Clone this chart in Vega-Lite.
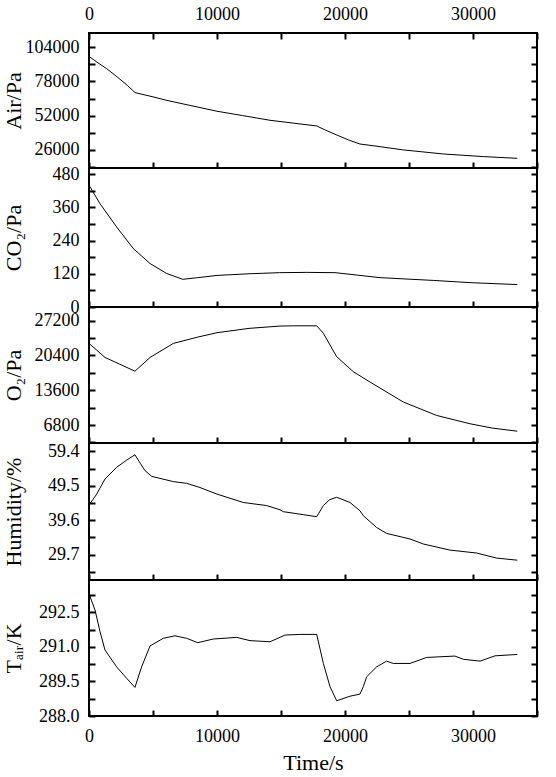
{
  "$schema": "https://vega.github.io/schema/vega-lite/v6.json",
  "autosize": {"type": "none"},
  "padding": {"left": 89, "top": 33, "right": 19, "bottom": 744},
  "spacing": 0,
  "bounds": "flush",
  "datasets": {
    "air": [
      {"t": 0, "v": 97100}, {"t": 700, "v": 92200}, {"t": 1380, "v": 87800}, {"t": 2200, "v": 81500},
      {"t": 3000, "v": 75000}, {"t": 3600, "v": 69500}, {"t": 5000, "v": 66300}, {"t": 6070, "v": 63600},
      {"t": 8670, "v": 58100}, {"t": 10000, "v": 55300}, {"t": 12000, "v": 52000}, {"t": 14140, "v": 48400},
      {"t": 16000, "v": 46200}, {"t": 17780, "v": 44100}, {"t": 18500, "v": 40800}, {"t": 19350, "v": 37200},
      {"t": 20300, "v": 33300}, {"t": 21170, "v": 30300}, {"t": 22500, "v": 28600}, {"t": 24560, "v": 25800},
      {"t": 27680, "v": 22700}, {"t": 30800, "v": 20700}, {"t": 33460, "v": 19400}
    ],
    "co2": [
      {"t": 0, "v": 440}, {"t": 860, "v": 373}, {"t": 2160, "v": 289}, {"t": 3460, "v": 211},
      {"t": 4770, "v": 157}, {"t": 6070, "v": 121}, {"t": 7320, "v": 100}, {"t": 8500, "v": 106},
      {"t": 10000, "v": 114}, {"t": 12500, "v": 120}, {"t": 14900, "v": 124}, {"t": 17000, "v": 125},
      {"t": 19220, "v": 124}, {"t": 21000, "v": 115}, {"t": 22730, "v": 106}, {"t": 26900, "v": 96},
      {"t": 29770, "v": 88}, {"t": 33460, "v": 81}
    ],
    "o2": [
      {"t": 0, "v": 22760}, {"t": 1250, "v": 20010}, {"t": 2400, "v": 18700}, {"t": 3590, "v": 17320},
      {"t": 4770, "v": 20010}, {"t": 6590, "v": 22760}, {"t": 8500, "v": 24000}, {"t": 10000, "v": 24850},
      {"t": 12500, "v": 25700}, {"t": 14920, "v": 26150}, {"t": 16000, "v": 26200}, {"t": 17790, "v": 26200},
      {"t": 18310, "v": 24740}, {"t": 18830, "v": 22450}, {"t": 19350, "v": 20160}, {"t": 20650, "v": 17220},
      {"t": 21950, "v": 15210}, {"t": 24560, "v": 11290}, {"t": 27160, "v": 8670}, {"t": 29770, "v": 7040},
      {"t": 31500, "v": 6200}, {"t": 33460, "v": 5590}
    ],
    "hum": [
      {"t": 0, "v": 44.0}, {"t": 300, "v": 45.5}, {"t": 600, "v": 47.1}, {"t": 1250, "v": 51.45},
      {"t": 2160, "v": 54.8}, {"t": 2950, "v": 56.9}, {"t": 3590, "v": 58.4}, {"t": 4000, "v": 56.0},
      {"t": 4375, "v": 53.85}, {"t": 4900, "v": 52.2}, {"t": 6590, "v": 50.7}, {"t": 7630, "v": 50.2},
      {"t": 8670, "v": 49.0}, {"t": 10000, "v": 47.1}, {"t": 12050, "v": 44.7}, {"t": 13880, "v": 43.8},
      {"t": 14920, "v": 42.6}, {"t": 15180, "v": 42.05}, {"t": 16740, "v": 41.2}, {"t": 17790, "v": 40.6},
      {"t": 18310, "v": 43.8}, {"t": 18800, "v": 45.5}, {"t": 19350, "v": 46.2}, {"t": 20390, "v": 44.7},
      {"t": 21170, "v": 42.3}, {"t": 21430, "v": 40.9}, {"t": 22470, "v": 37.5}, {"t": 23250, "v": 35.8},
      {"t": 25080, "v": 34.2}, {"t": 26120, "v": 32.75}, {"t": 28200, "v": 31.0}, {"t": 30290, "v": 30.16},
      {"t": 31850, "v": 28.7}, {"t": 33460, "v": 28.1}
    ],
    "tair": [
      {"t": 0, "v": 293.33}, {"t": 200, "v": 293.0}, {"t": 470, "v": 292.6}, {"t": 860, "v": 291.66},
      {"t": 1250, "v": 290.86}, {"t": 2160, "v": 290.13}, {"t": 2950, "v": 289.63}, {"t": 3590, "v": 289.24},
      {"t": 4110, "v": 290.13}, {"t": 4770, "v": 291.04}, {"t": 5800, "v": 291.37}, {"t": 6720, "v": 291.48},
      {"t": 7630, "v": 291.37}, {"t": 8500, "v": 291.18}, {"t": 9710, "v": 291.34}, {"t": 11540, "v": 291.41},
      {"t": 12580, "v": 291.27}, {"t": 14140, "v": 291.22}, {"t": 15310, "v": 291.51}, {"t": 16480, "v": 291.54},
      {"t": 17790, "v": 291.54}, {"t": 18310, "v": 290.28}, {"t": 18830, "v": 289.27}, {"t": 19350, "v": 288.66},
      {"t": 20390, "v": 288.86}, {"t": 21170, "v": 288.95}, {"t": 21430, "v": 289.27}, {"t": 21690, "v": 289.7},
      {"t": 22470, "v": 290.13}, {"t": 23250, "v": 290.38}, {"t": 23770, "v": 290.28}, {"t": 25080, "v": 290.28},
      {"t": 26380, "v": 290.54}, {"t": 28590, "v": 290.6}, {"t": 29240, "v": 290.46}, {"t": 30550, "v": 290.38},
      {"t": 31720, "v": 290.61}, {"t": 33460, "v": 290.67}
    ]
  },
  "vconcat": [
    {
      "width": 448, "height": 135,
      "data": {"name": "air"},
      "layer": [
        {
          "mark": {"type": "line"},
          "encoding": {
            "x": {"field": "t", "type": "quantitative", "scale": {"domain": [0, 35000], "nice": false, "zero": false},
              "axis": {"orient": "bottom", "values": [0,5000,10000,15000,20000,25000,30000,35000], "labels": false, "title": null, "tickSize": 6, "offset": -6}},
            "y": {"field": "v", "type": "quantitative", "scale": {"domain": [12000, 115000], "nice": false, "zero": false},
              "axis": {"orient": "left", "title": "Air/Pa", "values": [13000,26000,39000,52000,65000,78000,91000,104000],
                "labelExpr": "datum.value % 26000 === 0 ? format(datum.value, 'd') : ''", "tickSize": 6, "offset": -6,
                "labelPadding": 10, "minExtent": 70, "maxExtent": 70, "titlePadding": 0}}
          }
        },
        {
          "mark": {"type": "line", "opacity": 0},
          "encoding": {
            "x": {"field": "t", "type": "quantitative", "scale": {"domain": [0, 35000], "nice": false, "zero": false},
              "axis": {"orient": "top", "values": [0,5000,10000,15000,20000,25000,30000,35000], "title": null,
                "labelExpr": "datum.value % 10000 === 0 ? format(datum.value, 'd') : ''", "labelPadding": 10, "tickSize": 6, "offset": -6}},
            "y": {"field": "v", "type": "quantitative", "scale": {"domain": [12000, 115000], "nice": false, "zero": false},
              "axis": {"orient": "right", "title": null, "labels": false, "values": [13000,26000,39000,52000,65000,78000,91000,104000], "tickSize": 6, "offset": -6}}
          }
        }
      ],
      "resolve": {"axis": {"x": "independent", "y": "independent"}}
    },
    {
      "width": 448, "height": 139,
      "data": {"name": "co2"},
      "layer": [
        {
          "mark": {"type": "line"},
          "encoding": {
            "x": {"field": "t", "type": "quantitative", "scale": {"domain": [0, 35000], "nice": false, "zero": false},
              "axis": {"orient": "bottom", "values": [0,5000,10000,15000,20000,25000,30000,35000], "labels": false, "title": null, "tickSize": 6, "offset": -6}},
            "y": {"field": "v", "type": "quantitative", "scale": {"domain": [0, 502], "nice": false, "zero": false},
              "axis": {"orient": "left", "title": "CO₂/Pa", "values": [0,60,120,180,240,300,360,420,480],
                "labelExpr": "datum.value % 120 === 0 ? format(datum.value, 'd') : ''", "tickSize": 6, "offset": -6,
                "labelPadding": 10, "minExtent": 70, "maxExtent": 70, "titlePadding": 0}}
          }
        },
        {
          "mark": {"type": "line", "opacity": 0},
          "encoding": {
            "x": {"field": "t", "type": "quantitative", "scale": {"domain": [0, 35000], "nice": false, "zero": false}, "axis": null},
            "y": {"field": "v", "type": "quantitative", "scale": {"domain": [0, 502], "nice": false, "zero": false},
              "axis": {"orient": "right", "title": null, "labels": false, "values": [0,60,120,180,240,300,360,420,480], "tickSize": 6, "offset": -6}}
          }
        }
      ],
      "resolve": {"axis": {"x": "independent", "y": "independent"}}
    },
    {
      "width": 448, "height": 136,
      "data": {"name": "o2"},
      "layer": [
        {
          "mark": {"type": "line"},
          "encoding": {
            "x": {"field": "t", "type": "quantitative", "scale": {"domain": [0, 35000], "nice": false, "zero": false},
              "axis": {"orient": "bottom", "values": [0,5000,10000,15000,20000,25000,30000,35000], "labels": false, "title": null, "tickSize": 6, "offset": -6}},
            "y": {"field": "v", "type": "quantitative", "scale": {"domain": [3280, 29880], "nice": false, "zero": false},
              "axis": {"orient": "left", "title": "O₂/Pa", "values": [3400,6800,10200,13600,17000,20400,23800,27200],
                "labelExpr": "datum.value % 6800 === 0 ? format(datum.value, 'd') : ''", "tickSize": 6, "offset": -6,
                "labelPadding": 10, "minExtent": 70, "maxExtent": 70, "titlePadding": 0}}
          }
        },
        {
          "mark": {"type": "line", "opacity": 0},
          "encoding": {
            "x": {"field": "t", "type": "quantitative", "scale": {"domain": [0, 35000], "nice": false, "zero": false}, "axis": null},
            "y": {"field": "v", "type": "quantitative", "scale": {"domain": [3280, 29880], "nice": false, "zero": false},
              "axis": {"orient": "right", "title": null, "labels": false, "values": [3400,6800,10200,13600,17000,20400,23800,27200], "tickSize": 6, "offset": -6}}
          }
        }
      ],
      "resolve": {"axis": {"x": "independent", "y": "independent"}}
    },
    {
      "width": 448, "height": 137,
      "data": {"name": "hum"},
      "layer": [
        {
          "mark": {"type": "line"},
          "encoding": {
            "x": {"field": "t", "type": "quantitative", "scale": {"domain": [0, 35000], "nice": false, "zero": false},
              "axis": {"orient": "bottom", "values": [0,5000,10000,15000,20000,25000,30000,35000], "labels": false, "title": null, "tickSize": 6, "offset": -6}},
            "y": {"field": "v", "type": "quantitative", "scale": {"domain": [22.4, 61.8], "nice": false, "zero": false},
              "axis": {"orient": "left", "title": "Humidity/%", "values": [24.75,29.7,34.65,39.6,44.55,49.5,54.45,59.4],
                "labelExpr": "indexof([29.7,39.6,49.5,59.4], datum.value) >= 0 ? format(datum.value, '.1f') : ''", "tickSize": 6, "offset": -6,
                "labelPadding": 10, "minExtent": 70, "maxExtent": 70, "titlePadding": 0}}
          }
        },
        {
          "mark": {"type": "line", "opacity": 0},
          "encoding": {
            "x": {"field": "t", "type": "quantitative", "scale": {"domain": [0, 35000], "nice": false, "zero": false}, "axis": null},
            "y": {"field": "v", "type": "quantitative", "scale": {"domain": [22.4, 61.8], "nice": false, "zero": false},
              "axis": {"orient": "right", "title": null, "labels": false, "values": [24.75,29.7,34.65,39.6,44.55,49.5,54.45,59.4], "tickSize": 6, "offset": -6}}
          }
        }
      ],
      "resolve": {"axis": {"x": "independent", "y": "independent"}}
    },
    {
      "width": 448, "height": 136,
      "data": {"name": "tair"},
      "layer": [
        {
          "mark": {"type": "line"},
          "encoding": {
            "x": {"field": "t", "type": "quantitative", "scale": {"domain": [0, 35000], "nice": false, "zero": false},
              "axis": {"orient": "bottom", "values": [0,5000,10000,15000,20000,25000,30000,35000], "title": "Time/s",
                "labelExpr": "datum.value % 10000 === 0 ? format(datum.value, 'd') : ''", "labelPadding": 11, "titlePadding": 7, "tickSize": 6, "offset": -6}},
            "y": {"field": "v", "type": "quantitative", "scale": {"domain": [288, 293.9], "nice": false, "zero": false},
              "axis": {"orient": "left", "title": "Tₐᵢᵣ/K", "values": [288,288.75,289.5,290.25,291,291.75,292.5,293.25],
                "labelExpr": "indexof([288,289.5,291,292.5], datum.value) >= 0 ? format(datum.value, '.1f') : ''", "tickSize": 6, "offset": -6,
                "labelPadding": 10, "minExtent": 70, "maxExtent": 70, "titlePadding": 0}}
          }
        },
        {
          "mark": {"type": "line", "opacity": 0},
          "encoding": {
            "x": {"field": "t", "type": "quantitative", "scale": {"domain": [0, 35000], "nice": false, "zero": false}, "axis": null},
            "y": {"field": "v", "type": "quantitative", "scale": {"domain": [288, 293.9], "nice": false, "zero": false},
              "axis": {"orient": "right", "title": null, "labels": false, "values": [288,288.75,289.5,290.25,291,291.75,292.5,293.25], "tickSize": 6, "offset": -6}}
          }
        }
      ],
      "resolve": {"axis": {"x": "independent", "y": "independent"}}
    }
  ],
  "config": {
    "view": {"stroke": "black", "strokeWidth": 2},
    "axis": {
      "domain": false, "grid": false, "ticks": true, "zindex": 1,
      "labelFont": "Liberation Serif", "labelFontSize": 18, "labelColor": "black",
      "titleFont": "Liberation Serif", "titleFontSize": 22, "titleFontWeight": "normal", "titleColor": "black",
      "tickColor": "black", "tickWidth": 2, "tickOpacity": 1,
      "labelOverlap": false, "labelFlush": false, "labelBound": false
    },
    "line": {"color": "black", "strokeWidth": 1}
  }
}
